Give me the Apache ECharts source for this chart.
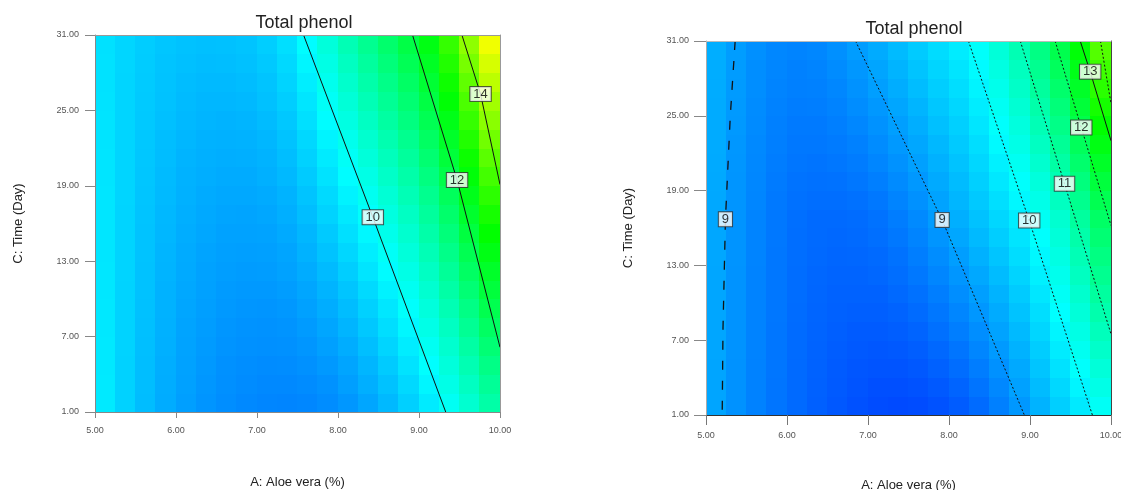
<!DOCTYPE html>
<html>
<head>
<meta charset="utf-8">
<title>Total phenol</title>
<script src="https://cdn.jsdelivr.net/npm/echarts@6.0.0/dist/echarts.min.js"></script>
<style>
  html, body { margin: 0; padding: 0; background: #fff; }
  #chart { width: 1121px; height: 490px; }
</style>
</head>
<body>
<div id="chart"></div>
<script>
// centres of the 20 x 20 cells of the response grid
const aloeCenters = [5.125, 5.375, 5.625, 5.875, 6.125, 6.375, 6.625, 6.875, 7.125, 7.375,
                     7.625, 7.875, 8.125, 8.375, 8.625, 8.875, 9.125, 9.375, 9.625, 9.875];
const dayCenters = [1.75, 3.25, 4.75, 6.25, 7.75, 9.25, 10.75, 12.25, 13.75, 15.25,
                    16.75, 18.25, 19.75, 21.25, 22.75, 24.25, 25.75, 27.25, 28.75, 30.25];
const aloeTicks = [5, 6, 7, 8, 9, 10];
const dayTicks = [1, 7, 13, 19, 25, 31];

// total phenol, one row per aloe column, day 1 (bottom) -> day 31 (top)
const phenolLeft = [
  [9.78,9.78,9.77,9.77,9.76,9.76,9.75,9.75,9.74,9.74,9.73,9.73,9.72,9.72,9.71,9.71,9.70,9.69,9.69,9.68],
  [9.52,9.52,9.52,9.53,9.53,9.53,9.53,9.54,9.54,9.54,9.54,9.55,9.55,9.55,9.55,9.56,9.56,9.56,9.57,9.57],
  [9.30,9.31,9.31,9.32,9.33,9.34,9.35,9.35,9.36,9.37,9.38,9.39,9.40,9.41,9.42,9.43,9.44,9.45,9.46,9.47],
  [9.12,9.13,9.14,9.16,9.17,9.18,9.19,9.21,9.22,9.24,9.25,9.27,9.28,9.30,9.31,9.33,9.35,9.36,9.38,9.40],
  [8.98,9.00,9.01,9.03,9.04,9.06,9.08,9.10,9.11,9.13,9.15,9.17,9.19,9.21,9.24,9.26,9.28,9.30,9.33,9.35],
  [8.88,8.90,8.92,8.94,8.96,8.98,9.00,9.02,9.04,9.07,9.09,9.11,9.14,9.16,9.19,9.22,9.24,9.27,9.30,9.33],
  [8.80,8.82,8.84,8.87,8.89,8.92,8.94,8.97,8.99,9.02,9.05,9.08,9.11,9.14,9.17,9.20,9.24,9.27,9.31,9.34],
  [8.75,8.78,8.80,8.83,8.86,8.89,8.92,8.95,8.98,9.01,9.04,9.08,9.11,9.15,9.18,9.22,9.26,9.30,9.34,9.38],
  [8.72,8.75,8.78,8.82,8.85,8.88,8.92,8.96,8.99,9.03,9.07,9.11,9.16,9.20,9.24,9.29,9.34,9.38,9.43,9.48],
  [8.71,8.75,8.79,8.83,8.87,8.91,8.96,9.01,9.05,9.10,9.15,9.20,9.26,9.31,9.36,9.42,9.48,9.54,9.60,9.66],
  [8.73,8.78,8.83,8.89,8.94,9.00,9.06,9.12,9.18,9.24,9.31,9.38,9.45,9.52,9.59,9.67,9.74,9.82,9.90,9.98],
  [8.79,8.85,8.92,8.99,9.06,9.13,9.21,9.28,9.36,9.44,9.53,9.61,9.70,9.79,9.88,9.98,10.08,10.18,10.28,10.38],
  [8.90,8.98,9.05,9.13,9.22,9.30,9.39,9.48,9.58,9.67,9.77,9.87,9.98,10.09,10.19,10.31,10.42,10.54,10.66,10.78],
  [9.06,9.15,9.23,9.32,9.42,9.51,9.61,9.72,9.82,9.93,10.04,10.15,10.27,10.39,10.51,10.64,10.77,10.90,11.03,11.17],
  [9.26,9.35,9.45,9.55,9.65,9.75,9.86,9.97,10.09,10.21,10.33,10.45,10.58,10.71,10.84,10.98,11.12,11.26,11.41,11.56],
  [9.50,9.60,9.70,9.81,9.92,10.03,10.14,10.26,10.39,10.51,10.64,10.77,10.91,11.05,11.19,11.34,11.49,11.64,11.80,11.96],
  [9.79,9.90,10.01,10.13,10.25,10.37,10.50,10.63,10.77,10.91,11.05,11.19,11.34,11.50,11.66,11.82,11.98,12.15,12.32,12.50],
  [10.12,10.25,10.38,10.51,10.65,10.79,10.94,11.09,11.25,11.41,11.57,11.74,11.92,12.09,12.27,12.46,12.65,12.85,13.05,13.25],
  [10.50,10.65,10.80,10.96,11.13,11.29,11.47,11.65,11.83,12.02,12.22,12.42,12.62,12.83,13.05,13.27,13.49,13.72,13.96,14.20],
  [10.93,11.10,11.28,11.47,11.66,11.86,12.06,12.27,12.49,12.71,12.93,13.17,13.41,13.65,13.90,14.16,14.42,14.69,14.97,15.25]
];
const phenolRight = [
  [9.08,9.08,9.08,9.09,9.09,9.09,9.09,9.09,9.10,9.10,9.10,9.11,9.12,9.13,9.14,9.14,9.15,9.16,9.17,9.18],
  [8.86,8.86,8.86,8.87,8.87,8.87,8.87,8.87,8.88,8.88,8.88,8.89,8.90,8.91,8.92,8.94,8.95,8.96,8.97,8.98],
  [8.68,8.68,8.68,8.69,8.69,8.69,8.69,8.69,8.70,8.70,8.70,8.72,8.73,8.75,8.76,8.78,8.79,8.81,8.82,8.84],
  [8.53,8.53,8.54,8.54,8.54,8.55,8.55,8.55,8.55,8.56,8.56,8.58,8.60,8.62,8.64,8.66,8.68,8.70,8.72,8.74],
  [8.40,8.41,8.41,8.42,8.42,8.43,8.44,8.44,8.45,8.45,8.46,8.49,8.51,8.54,8.57,8.59,8.62,8.65,8.67,8.70],
  [8.29,8.30,8.31,8.33,8.34,8.35,8.36,8.37,8.39,8.40,8.41,8.45,8.48,8.52,8.56,8.59,8.63,8.67,8.70,8.74],
  [8.20,8.22,8.24,8.26,8.28,8.30,8.32,8.34,8.36,8.38,8.40,8.45,8.50,8.55,8.60,8.64,8.69,8.74,8.79,8.84],
  [8.12,8.15,8.18,8.21,8.24,8.28,8.31,8.34,8.37,8.40,8.43,8.49,8.55,8.61,8.67,8.74,8.80,8.86,8.92,8.98],
  [8.06,8.10,8.15,8.19,8.24,8.28,8.32,8.37,8.41,8.46,8.50,8.57,8.64,8.72,8.79,8.86,8.93,9.01,9.08,9.15],
  [8.04,8.10,8.16,8.21,8.27,8.33,8.39,8.45,8.50,8.56,8.62,8.70,8.78,8.86,8.94,9.01,9.09,9.17,9.25,9.33],
  [8.06,8.13,8.20,8.27,8.34,8.42,8.49,8.56,8.63,8.70,8.77,8.85,8.93,9.02,9.10,9.18,9.26,9.35,9.43,9.51],
  [8.13,8.21,8.30,8.38,8.47,8.55,8.63,8.72,8.80,8.89,8.97,9.05,9.13,9.21,9.29,9.38,9.46,9.54,9.62,9.70],
  [8.25,8.34,8.44,8.53,8.63,8.72,8.81,8.91,9.00,9.10,9.19,9.27,9.34,9.42,9.50,9.57,9.65,9.73,9.80,9.88],
  [8.42,8.52,8.62,8.72,8.82,8.92,9.01,9.11,9.21,9.31,9.41,9.49,9.57,9.65,9.73,9.82,9.90,9.98,10.06,10.14],
  [8.65,8.75,8.85,8.95,9.05,9.15,9.24,9.34,9.44,9.54,9.64,9.74,9.84,9.94,10.04,10.13,10.23,10.33,10.43,10.53],
  [8.93,9.03,9.12,9.22,9.32,9.42,9.51,9.61,9.71,9.80,9.90,10.02,10.13,10.25,10.37,10.48,10.60,10.72,10.83,10.95],
  [9.24,9.34,9.44,9.53,9.63,9.73,9.83,9.93,10.02,10.12,10.22,10.36,10.50,10.65,10.79,10.93,11.07,11.22,11.36,11.50],
  [9.55,9.66,9.77,9.88,9.99,10.10,10.20,10.31,10.42,10.53,10.64,10.80,10.97,11.13,11.29,11.46,11.62,11.78,11.95,12.11],
  [9.86,9.99,10.13,10.26,10.40,10.53,10.66,10.80,10.93,11.07,11.20,11.39,11.58,11.77,11.96,12.16,12.35,12.54,12.73,12.92],
  [10.20,10.37,10.53,10.70,10.86,11.03,11.19,11.36,11.52,11.69,11.85,12.08,12.31,12.55,12.78,13.01,13.24,13.48,13.71,13.94]
];

// contour lines, [aloe, day]
const left10 = [[7.575, 31], [8.43, 16.5], [9.33, 1]];
const left12 = [[8.92, 31], [9.47, 19.46], [10, 6.15]];
const left14 = [[9.53, 31], [9.76, 26.3], [10, 19.1]];
const right9a = [[5.36, 31], [5.30, 25], [5.24, 16.7], [5.21, 8], [5.2, 1]];
const right9b = [[6.846, 31], [7.915, 16.65], [8.93, 1]];
const right10 = [[8.24, 31], [8.99, 16.6], [9.77, 1]];
const right11 = [[8.88, 31], [9.426, 19.55], [10, 7.5]];
const right12 = [[9.31, 31], [9.633, 24.06], [10, 16.2]];
const right13 = [[9.62, 31], [9.743, 28.54], [10, 23]];
const right14 = [[9.87, 31], [10, 26]];

// contour labels, [aloe, day, level]
const leftLabels = [[8.43, 16.5, 10], [9.47, 19.46, 12], [9.76, 26.3, 14]];
const rightLabels = [[5.24, 16.7, 9], [7.915, 16.65, 9], [8.99, 16.6, 10],
                     [9.426, 19.55, 11], [9.633, 24.06, 12], [9.743, 28.54, 13]];

const font = 'Liberation Sans, Arial, sans-serif';
const palette = ['#0000ff', '#00ffff', '#00ff00', '#ffff00', '#ff0000'];
const halfW = (aloeCenters[1] - aloeCenters[0]) / 2;
const halfH = (dayCenters[1] - dayCenters[0]) / 2;

function cells(grid) {
  const out = [];
  grid.forEach(function (col, i) {
    col.forEach(function (z, j) { out.push([aloeCenters[i], dayCenters[j], z]); });
  });
  return out;
}

function drawCell(params, api) {
  const a = api.coord([api.value(0) - halfW, api.value(1) + halfH]);
  const b = api.coord([api.value(0) + halfW, api.value(1) - halfH]);
  const x = Math.floor(a[0]), y = Math.floor(a[1]);
  return {
    type: 'rect',
    shape: { x: x, y: y, width: Math.ceil(b[0]) - x, height: Math.ceil(b[1]) - y },
    style: { fill: api.visual('color') }
  };
}

function range(ticks) {
  return { type: 'value', min: ticks[0], max: ticks[ticks.length - 1],
           interval: ticks[1] - ticks[0], splitLine: { show: false }, z: 5 };
}

function frame(ticks, grid, position, color) {
  return Object.assign(range(ticks), {
    gridIndex: grid, position: position,
    axisLine: { onZero: false, lineStyle: { color: color, width: 1 } },
    axisTick: { show: false }, axisLabel: { show: false }
  });
}

function contour(points, grid, type, width) {
  return {
    type: 'line', xAxisIndex: grid * 2, yAxisIndex: grid * 2, data: points,
    symbol: 'none', silent: true, z: 3, animation: false,
    lineStyle: { color: '#111', width: width || 1, type: type || 'solid' }
  };
}

function labels(points, grid) {
  return {
    type: 'scatter', xAxisIndex: grid * 2, yAxisIndex: grid * 2, data: points,
    symbol: 'rect', symbolSize: 1, itemStyle: { color: 'rgba(0,0,0,0)' },
    silent: true, z: 4, animation: false,
    label: {
      show: true, position: 'inside', formatter: function (p) { return p.value[2]; },
      fontFamily: font, fontSize: 13, color: '#000',
      backgroundColor: '#fff', borderColor: '#333', borderWidth: 1, padding: [1, 3, 0, 3]
    }
  };
}

const tickLabel = function (v) { return v.toFixed(2); };
const nameStyle = { fontFamily: font, fontSize: 13, color: '#222' };

const chart = echarts.init(document.getElementById('chart'));
chart.setOption({
  backgroundColor: '#fff',
  animation: false,
  title: [
    { text: 'Total phenol', left: 299, top: 9, textAlign: 'center',
      textStyle: { fontFamily: font, fontSize: 18, fontWeight: 'normal', color: '#222' } },
    { text: 'Total phenol', left: 909, top: 15, textAlign: 'center',
      textStyle: { fontFamily: font, fontSize: 18, fontWeight: 'normal', color: '#222' } }
  ],
  grid: [
    { left: 95, top: 35, width: 405, height: 377, outerBoundsMode: 'none', containLabel: false },
    { left: 706, top: 41, width: 405, height: 374, outerBoundsMode: 'none', containLabel: false }
  ],
  xAxis: [
    Object.assign(range(aloeTicks), {
      gridIndex: 0, position: 'bottom',
      name: 'A: Aloe vera (%)', nameLocation: 'middle', nameGap: 64, nameTextStyle: nameStyle,
      axisLine: { onZero: false, lineStyle: { color: '#888', width: 1 } },
      axisTick: { length: 6, lineStyle: { color: '#888' } },
      axisLabel: { fontFamily: font, fontSize: 9, color: '#555', margin: 14, formatter: tickLabel }
    }),
    frame(aloeTicks, 0, 'top', '#999'),
    Object.assign(range(aloeTicks), {
      gridIndex: 1, position: 'bottom',
      name: 'A: Aloe vera (%)', nameLocation: 'middle', nameGap: 64, nameTextStyle: nameStyle,
      axisLine: { onZero: false, lineStyle: { color: '#333', width: 1 } },
      axisTick: { length: 10, lineStyle: { color: '#777' } },
      axisLabel: { fontFamily: font, fontSize: 9, color: '#555', margin: 16, formatter: tickLabel }
    }),
    frame(aloeTicks, 1, 'top', '#bbb')
  ],
  yAxis: [
    Object.assign(range(dayTicks), {
      gridIndex: 0, position: 'left',
      name: 'C: Time (Day)', nameLocation: 'middle', nameGap: 70, nameTextStyle: nameStyle,
      axisLine: { onZero: false, lineStyle: { color: '#888', width: 1 } },
      axisTick: { length: 10, lineStyle: { color: '#888' } },
      axisLabel: { fontFamily: font, fontSize: 9, color: '#555', margin: 16, formatter: tickLabel }
    }),
    frame(dayTicks, 0, 'right', '#999'),
    Object.assign(range(dayTicks), {
      gridIndex: 1, position: 'left',
      name: 'C: Time (Day)', nameLocation: 'middle', nameGap: 71, nameTextStyle: nameStyle,
      axisLine: { onZero: false, lineStyle: { color: '#aaa', width: 1 } },
      axisTick: { length: 12, lineStyle: { color: '#888' } },
      axisLabel: { fontFamily: font, fontSize: 9, color: '#555', margin: 17, formatter: tickLabel }
    }),
    frame(dayTicks, 1, 'right', '#444')
  ],
  visualMap: [
    { show: false, seriesIndex: 0, dimension: 2, min: 7.3, max: 18.1, inRange: { color: palette } },
    { show: false, seriesIndex: 1, dimension: 2, min: 7.2, max: 18.8, inRange: { color: palette } }
  ],
  series: [
    { type: 'custom', xAxisIndex: 0, yAxisIndex: 0, data: cells(phenolLeft),
      renderItem: drawCell, clip: true, silent: true, z: 1 },
    { type: 'custom', xAxisIndex: 2, yAxisIndex: 2, data: cells(phenolRight),
      renderItem: drawCell, clip: true, silent: true, z: 1 },
    contour(left10, 0), contour(left12, 0), contour(left14, 0),
    contour(right9a, 1, [9, 11], 1.3),
    contour(right9b, 1, [2, 2]),
    contour(right10, 1, [2, 2]),
    contour(right11, 1, [2, 2]),
    contour(right12, 1, [2, 2]),
    contour(right13, 1),
    contour(right14, 1, [2, 2]),
    labels(leftLabels, 0),
    labels(rightLabels, 1)
  ]
});
</script>
</body>
</html>
